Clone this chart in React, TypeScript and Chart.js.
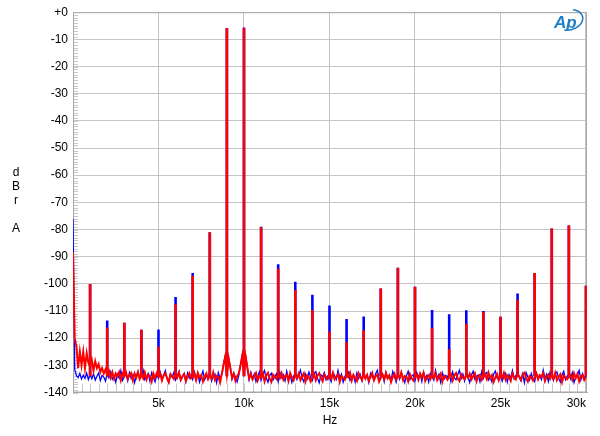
import React, { useEffect, useRef } from "react";
import { Chart, registerables } from "chart.js";
Chart.register(...registerables);

// ---- data ----
const noiseStepHz = 100; // noise arrays sampled every 100 Hz from 0 Hz to 30 kHz

const redNoise = [
  -88.5, -120, -123, -131, -125, -130, -125, -131, -125.5, -129,
  -130.5, -128, -132, -128.5, -131, -129.5, -132.5, -131, -133, -131.5,
  -133.5, -132, -134.5, -132.5, -135, -133, -134, -132.5, -135.5, -133,
  -134, -132.5, -135, -133.5, -132.8, -135.5, -133, -134.5, -132.5, -135,
  -133.5, -134.8, -132.6, -135.2, -133.4, -134, -136, -133, -134.6, -132.8,
  -134.2, -133, -135.6, -133.8, -132.9, -134.7, -136.2, -133.3, -134, -135,
  -133, -134.5, -132.7, -135.3, -134, -133.2, -135.8, -134.1, -132.9, -134.8,
  -134.4, -133.1, -135.5, -132.8, -134.6, -133.6, -136, -134.2, -133, -135.1,
  -133.7, -134.9, -132.6, -135.4, -133.9, -134.3, -136.3, -133.2, -130, -127,
  -133.5, -127.5, -131, -134.6, -133.1, -135.7, -134, -132.9, -130, -126.5,
  -134, -127, -131, -134.8, -133.3, -135.2, -134.1, -132.8, -135.6, -133.9,
  -134.5, -133, -135.9, -133.6, -132.7, -134.9, -136.1, -133.4, -134.2, -135,
  -133.2, -134.7, -132.9, -135.3, -134, -133.5, -135.8, -132.8, -134.4, -135.5,
  -133.8, -134.6, -133, -135.4, -134.1, -132.9, -135.9, -133.7, -134.5, -136,
  -134.3, -133.1, -135.5, -133.8, -132.9, -134.6, -135.9, -133.4, -134.2, -135.1,
  -133.6, -134.8, -132.8, -135.2, -134.3, -133.3, -136.1, -133.9, -134.6, -135.3,
  -133.9, -134.4, -132.7, -135.6, -133.5, -134.7, -135.8, -132.9, -134.1, -135.4,
  -133.2, -134.9, -133.5, -135.7, -134.2, -132.8, -135.5, -134, -133.4, -136,
  -134.6, -133.3, -135.1, -132.9, -134.8, -133.7, -136.2, -134.3, -133.1, -135.2,
  -133.8, -134.5, -132.6, -135.4, -133.9, -134.1, -135.9, -133.2, -134.7, -135.6,
  -134.1, -133.4, -135.3, -133, -134.5, -132.8, -135.7, -134.2, -133.6, -135.1,
  -133.5, -134.7, -132.9, -135.5, -134.3, -133.1, -136, -133.8, -134.4, -135.3,
  -134, -133.2, -135.6, -133.7, -132.8, -134.9, -135.8, -133.3, -134.6, -135,
  -133.4, -134.6, -133.1, -135.2, -134, -132.9, -135.9, -134.1, -133.5, -135.4,
  -134.2, -133.3, -135.1, -132.7, -134.8, -133.6, -136.1, -134.4, -133.2, -135.5,
  -133.9, -134.7, -132.8, -135.3, -133.7, -134.2, -135.7, -133, -134.5, -135.2,
  -133.3, -134.1, -135.4, -133.2, -132.7, -134.8, -136, -133.9, -134.3, -135.6,
  -134.5, -133, -135.2, -133.6, -134.1, -132.9, -135.8, -134.2, -133.4, -135,
  -133.6, -134.9, -132.8, -135.5, -134.3, -133.3, -136.2, -133.7, -134.6, -135.1,
  -134.2, -133.5, -135.3, -132.9, -134.7, -133.2, -135.9, -134, -133.6, -135.4,
  -134.3,
];

const blueNoise = [
  -76, -131.5, -133.8, -134.5, -133, -135, -133.6, -134.8, -132.9, -135.2,
  -133.4, -134.9, -133.1, -135.4, -134, -132.8, -135.6, -133.7, -134.3, -135.8,
  -133, -134.6, -132.4, -135.1, -133.9, -136.2, -133.3, -134.7, -131.9, -135.5,
  -134.1, -133.2, -135.7, -132.6, -134.8, -133.5, -136.4, -134, -132.3, -135.1,
  -133.7, -131.8, -135.3, -134.2, -133, -135.9, -132.7, -134.5, -136.1, -133.4,
  -134.8, -132.5, -135, -133.6, -131.9, -134.9, -136.3, -133.1, -134.4, -132.6,
  -135.4, -133.8, -132.2, -135.6, -134.3, -133, -136, -132.8, -134.7, -133.5,
  -135.2, -132.4, -134.6, -133.3, -136.2, -134.1, -132.1, -135.3, -133.7, -134.9,
  -132.6, -135.8, -134, -133.2, -136.4, -132.7, -134.8, -133.5, -129.5, -126.5,
  -134, -127, -130.5, -135.1, -132.8, -134.4, -136.1, -133.6, -129.5, -126,
  -133.7, -126.5, -130.8, -135.3, -132.5, -134.9, -133.2, -136, -134.1, -132.4,
  -135.5, -133.3, -131.9, -134.7, -136.2, -133.8, -132.9, -135.4, -134.2, -133.1,
  -136, -132.6, -134.5, -133.4, -135.7, -132.2, -134.9, -133.6, -136.3, -134,
  -132.8, -135.2, -133.7, -131.8, -134.6, -136.1, -133.3, -135, -132.5, -134.4,
  -135.6, -133.1, -132.3, -134.8, -136.4, -133.5, -134.2, -132.7, -135.3, -133.9,
  -134.5, -136, -132.6, -133.8, -135.2, -131.9, -134.6, -133.2, -136.2, -134.1,
  -133, -132.4, -135.5, -134.3, -133.6, -136.1, -132.8, -134.9, -133.4, -135.7,
  -132.1, -134.7, -133.5, -136.3, -132.9, -134.2, -135.4, -133.1, -131.8, -135,
  -134.4, -133.2, -136, -132.5, -134.8, -133.7, -135.6, -132.3, -134.1, -136.2,
  -133.3, -135.1, -132.7, -134.5, -136.4, -133.8, -132.2, -135.3, -134, -133.5,
  -135.8, -132.6, -134.3, -133.1, -135.9, -132.4, -134.7, -133.6, -136.1, -132.9,
  -134.2, -135.5, -131.9, -134.8, -133.3, -136.2, -132.8, -135, -133.7, -134.4,
  -133, -136, -132.5, -134.6, -135.3, -133.4, -131.8, -134.9, -133.2, -135.7,
  -132.7, -134.3, -136.3, -133.5, -132.2, -135.1, -134, -133.6, -136, -132.4,
  -134.8, -133.1, -132.6, -135.4, -134.2, -136.1, -133.3, -132.1, -134.7, -135.2,
  -133.6, -135.8, -134.1, -132.9, -136.2, -133.4, -134.6, -131.9, -135, -133.8,
  -132.3, -134.5, -135.7, -133.2, -136.4, -132.7, -134.3, -135.5, -133, -134.9,
  -136, -132.8, -134.4, -133.7, -135.2, -131.8, -134.8, -133.3, -135.9, -132.5,
  -134.1, -135.6, -133, -132.4, -134.7, -136.1, -133.5, -132.2, -135.3, -134,
  -133.4, -135, -132.7, -136.3, -134.2, -133.6, -131.9, -135.4, -133.1, -134.6,
  -133.8,
];

const harmonicHz = [
  1000, 2000, 3000, 4000, 5000, 6000, 7000, 8000, 9000, 10000,
  11000, 12000, 13000, 14000, 15000, 16000, 17000, 18000, 19000, 20000,
  21000, 22000, 23000, 24000, 25000, 26000, 27000, 28000, 29000, 30000,
];
const redPeaks = [
  -100.1, -116.1, -114.3, -116.9, -123.2, -107.4, -97, -81, -5.8, -5.8,
  -79.2, -94.4, -102.3, -109.6, -117.5, -121.4, -117.1, -101.7, -94.1, -101.1,
  -116.3, -124, -114.7, -110.4, -112.1, -105.9, -96, -79.6, -78.5, -100.7,
];
const bluePeaks = [
  -100.1, -113.5, -114.3, -116.9, -116.8, -104.8, -96, -81, -5.8, -5.6,
  -79, -92.8, -99.2, -104, -108, -112.9, -112, -101.7, -94.1, -101.1,
  -109.6, -111.2, -109.7, -110, -112.1, -103.6, -96, -79.6, -78.5, -100.7,
];
const spikeBase = -134;

const yTicks = [0, -10, -20, -30, -40, -50, -60, -70, -80, -90, -100, -110, -120, -130, -140];
const xTicks = [0, 5000, 10000, 15000, 20000, 25000, 30000];
const xTickLabels = ["", "5k", "10k", "15k", "20k", "25k", "30k"];
const yTitleLines = ["d", "B", "r", "", "A"];
const xTitle = "Hz";
const logoText = "Ap";

const X_MIN = 0;
const X_MAX = 30060;
const Y_MIN = -140;
const Y_MAX = 0;

const FONT = '"Liberation Sans", Arial, sans-serif';

function noisePoints(vals: number[]) {
  return vals.map((v, i) => ({ x: i * noiseStepHz, y: v }));
}
function spikePoints(peaks: number[]) {
  const pts: { x: number; y: number | null }[] = [];
  harmonicHz.forEach((hz, i) => {
    pts.push({ x: hz, y: spikeBase }, { x: hz, y: peaks[i] }, { x: hz, y: null });
  });
  return pts;
}

const decorPlugin = {
  id: "decor",
  beforeDatasetsDraw(chart: any) {
    const { ctx, chartArea: a, scales } = chart;
    const xs = scales.x;
    const ys = scales.y;
    ctx.save();
    ctx.strokeStyle = "#c8c8c8";
    ctx.lineWidth = 1;
    for (let v = Y_MIN; v <= Y_MAX; v += 1) {
      const y = Math.round(ys.getPixelForValue(v)) + 0.5;
      ctx.beginPath();
      ctx.moveTo(a.left, y);
      ctx.lineTo(a.left + 5, y);
      ctx.stroke();
    }
    for (let hz = 500; hz < X_MAX; hz += 500) {
      const x = Math.round(xs.getPixelForValue(hz)) + 0.5;
      ctx.beginPath();
      ctx.moveTo(x, a.bottom);
      ctx.lineTo(x, a.bottom - 9);
      ctx.stroke();
    }
    ctx.strokeStyle = "#a8a8a8";
    ctx.strokeRect(a.left + 0.5, a.top + 0.5, a.right - a.left - 1, a.bottom - a.top - 1);
    ctx.restore();
  },
  afterDraw(chart: any) {
    const { ctx, chartArea: a } = chart;
    ctx.save();
    ctx.fillStyle = "#000";
    ctx.font = `12px ${FONT}`;
    ctx.textAlign = "center";
    ctx.textBaseline = "middle";
    const y0 = 173;
    yTitleLines.forEach((t, i) => {
      if (t) ctx.fillText(t, 16, y0 + i * 14);
    });
    ctx.fillText(xTitle, (a.left + a.right) / 2, 421);
    ctx.fillStyle = "#1f7fc6";
    ctx.strokeStyle = "#1f7fc6";
    ctx.font = `italic bold 17px ${FONT}`;
    ctx.textAlign = "left";
    ctx.textBaseline = "alphabetic";
    ctx.fillText(logoText, 554, 28);
    ctx.lineWidth = 1.6;
    ctx.beginPath();
    ctx.ellipse(569, 20, 14, 10, -0.25, -1.1, 2.1);
    ctx.stroke();
    ctx.restore();
  },
};

export default function App() {
  const ref = useRef<HTMLCanvasElement | null>(null);
  useEffect(() => {
    if (!ref.current) return;
    const chart = new Chart(ref.current, {
      type: "line",
      data: {
        datasets: [
          {
            label: "red spikes",
            data: spikePoints(redPeaks),
            borderColor: "#ff0000",
            borderWidth: 2.6,
            pointRadius: 0,
            spanGaps: false,
          },
          {
            label: "red noise",
            data: noisePoints(redNoise),
            borderColor: "#ff0000",
            borderWidth: 2,
            pointRadius: 0,
          },
          {
            label: "blue spikes",
            data: spikePoints(bluePeaks),
            borderColor: "#0000ff",
            borderWidth: 2.6,
            pointRadius: 0,
            spanGaps: false,
          },
          {
            label: "blue noise",
            data: noisePoints(blueNoise),
            borderColor: "#0000ff",
            borderWidth: 1.3,
            pointRadius: 0,
          },
        ],
      },
      options: {
        animation: false,
        responsive: false,
        devicePixelRatio: 1,
        layout: { padding: { left: 0, right: 13, top: 9, bottom: 0 } },
        plugins: { legend: { display: false }, tooltip: { enabled: false } },
        elements: { line: { tension: 0 } },
        scales: {
          x: {
            type: "linear",
            min: X_MIN,
            max: X_MAX,
            afterBuildTicks: (s: any) => {
              s.ticks = xTicks.map((v) => ({ value: v }));
            },
            afterFit: (s: any) => {
              s.height = 43.5;
            },
            grid: { color: "#c4c4c4", drawTicks: false, lineWidth: 1 },
            border: { display: true, color: "#a8a8a8" },
            ticks: {
              align: "inner",
              maxRotation: 0,
              autoSkip: false,
              padding: 4,
              color: "#000",
              font: { family: FONT, size: 12 },
              callback: (v: any) => {
                const i = xTicks.indexOf(Number(v));
                return i >= 0 ? xTickLabels[i] : "";
              },
            },
          },
          y: {
            type: "linear",
            min: Y_MIN,
            max: Y_MAX,
            afterBuildTicks: (s: any) => {
              s.ticks = yTicks.map((v) => ({ value: v }));
            },
            afterFit: (s: any) => {
              s.width = 73;
            },
            grid: { color: "#c4c4c4", drawTicks: false, lineWidth: 1 },
            border: { display: true, color: "#a8a8a8" },
            ticks: {
              padding: 5,
              autoSkip: false,
              color: "#000",
              font: { family: FONT, size: 12 },
              callback: (v: any) => (Number(v) === 0 ? "+0" : String(v)),
            },
          },
        },
      } as any,
      plugins: [decorPlugin],
    });
    return () => chart.destroy();
  }, []);
  return (
    <div style={{ position: "absolute", left: 0, top: 0, width: 600, height: 436, background: "#fff" }}>
      <canvas ref={ref} width={600} height={436} style={{ display: "block" }} />
    </div>
  );
}
